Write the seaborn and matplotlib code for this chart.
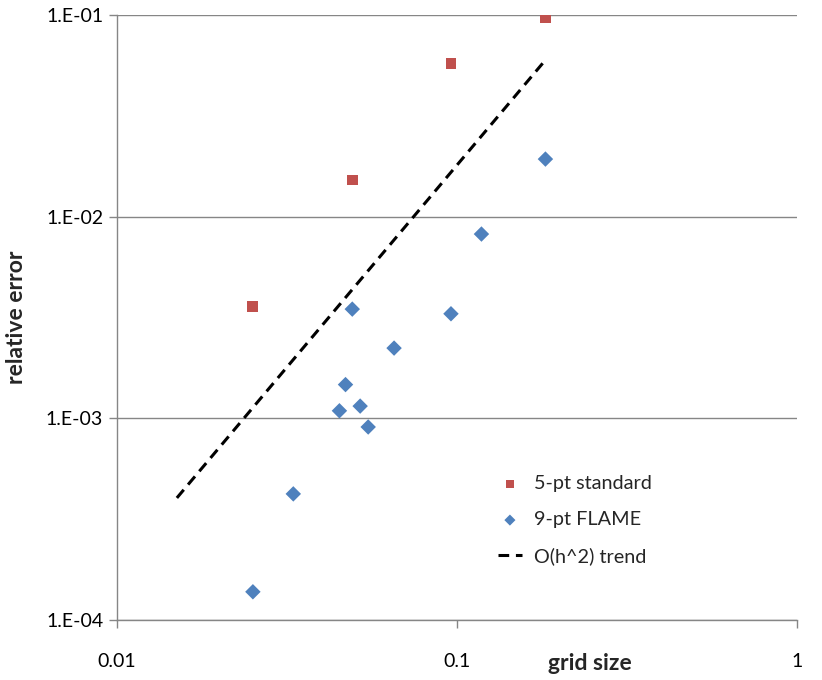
import seaborn as sns
import pandas as pd
import matplotlib.pyplot as plt
from matplotlib.ticker import FixedLocator, NullLocator

# data
std_h = [0.1824, 0.096, 0.0492, 0.0251]
std_err = [0.0966, 0.0572, 0.0152, 0.0036]

flame_h = [0.182, 0.118, 0.096, 0.0492, 0.0653, 0.047, 0.0451, 0.0519, 0.0548, 0.033, 0.0251]
flame_err = [0.0193, 0.0082, 0.0033, 0.00348, 0.00223, 0.00147, 0.00109, 0.00115, 0.000906, 0.000422, 0.000138]

trend_h = [0.015, 0.182]
trend_err = [0.000403, 0.0598]

x_ticks = [0.01, 0.1, 1]
x_labels = ["0.01", "0.1", "1"]
y_ticks = [1e-4, 1e-3, 1e-2, 1e-1]
y_labels = ["1.E-04", "1.E-03", "1.E-02", "1.E-01"]

sns.set_style("white")
plt.rcParams["font.family"] = ["Lato", "DejaVu Sans"]
axis_grey = "#868686"

fig = plt.figure(figsize=(8.22, 6.8), dpi=100)
ax = fig.add_axes([117 / 822, 60 / 680, 680 / 822, 605 / 680])

df_std = pd.DataFrame({"h": std_h, "err": std_err})
df_flame = pd.DataFrame({"h": flame_h, "err": flame_err})
df_trend = pd.DataFrame({"h": trend_h, "err": trend_err})

sns.scatterplot(data=df_std, x="h", y="err", ax=ax, marker="s", s=62,
                color="#C0504D", edgecolor="none", label="5-pt standard", zorder=3)
sns.scatterplot(data=df_flame, x="h", y="err", ax=ax, marker="D", s=62,
                color="#4F81BD", edgecolor="none", label="9-pt FLAME", zorder=3)
sns.lineplot(data=df_trend, x="h", y="err", ax=ax, color="black", lw=2.2,
             dashes=False, label="O(h^2) trend", zorder=2)
ax.lines[-1].set_dashes([3.5, 2.2])

ax.set_xscale("log")
ax.set_yscale("log")
ax.set_xlim(0.01, 1)
ax.set_ylim(1e-4, 1e-1)

ax.xaxis.set_major_locator(FixedLocator(x_ticks))
ax.xaxis.set_minor_locator(NullLocator())
ax.set_xticklabels(x_labels)
ax.yaxis.set_major_locator(FixedLocator(y_ticks))
ax.yaxis.set_minor_locator(NullLocator())
ax.set_yticklabels(y_labels)

ax.tick_params(axis="both", direction="out", length=6, width=1, color=axis_grey,
               labelsize=14, labelcolor="black", bottom=True, left=True)
ax.tick_params(axis="x", pad=18)
ax.tick_params(axis="y", pad=4)

ax.grid(axis="y", color=axis_grey, lw=1)
ax.grid(axis="x", visible=False)
for side in ["top", "right"]:
    ax.spines[side].set_visible(False)
for side in ["left", "bottom"]:
    ax.spines[side].set_color(axis_grey)
    ax.spines[side].set_linewidth(1)

ax.set_xlabel("grid size", fontsize=16.5, fontweight="bold")
ax.xaxis.set_label_coords(473 / 680, -43 / 605)
ax.xaxis.label.set_va("center")
ax.set_ylabel("relative error", fontsize=16.5, fontweight="bold")
ax.yaxis.set_label_coords(-90 / 680, 0.5)

leg = ax.legend(loc="upper left", bbox_to_anchor=(0.534, 0.2685), frameon=False,
                fontsize=14.3, handlelength=1.2, handletextpad=0.6, labelspacing=0.95)
for h in leg.legend_handles[:2]:
    h.set_sizes([32])

fig.savefig("out.png", dpi=100)
